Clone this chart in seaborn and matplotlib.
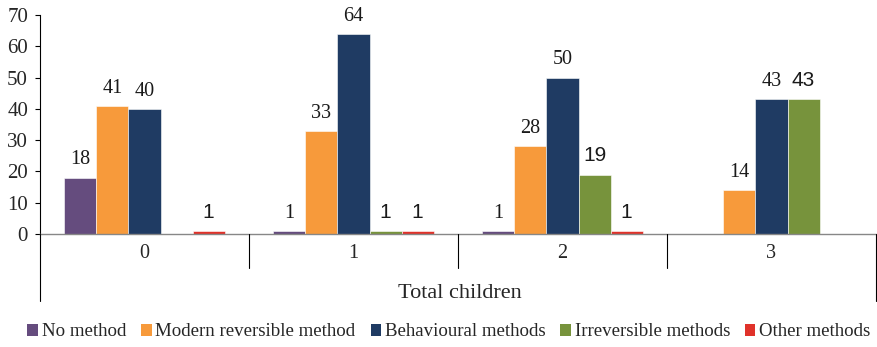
import matplotlib
matplotlib.use("Agg")
import matplotlib.pyplot as plt
import seaborn as sns
import pandas as pd
from matplotlib.patches import Patch
from matplotlib.lines import Line2D
from matplotlib.transforms import blended_transform_factory

# Share of respondents (%) by contraceptive method and number of children
children = ["0", "1", "2", "3"]
methods = ["No method", "Modern reversible method", "Behavioural methods",
           "Irreversible methods", "Other methods"]
no_method = [18, 1, 1, 0]
modern_reversible = [41, 33, 28, 14]
behavioural = [40, 64, 50, 43]
irreversible = [0, 1, 19, 43]
other = [1, 1, 1, 0]
y_ticks = [0, 10, 20, 30, 40, 50, 60, 70]

colors = ["#654C7E", "#F79A3B", "#1F3B63", "#77933C", "#E0322A"]
label_fonts = ["Liberation Serif", "Liberation Serif", "Liberation Serif",
               "Liberation Sans", "Liberation Sans"]
label_sizes = [14.5, 14.5, 14.5, 15, 15]

series = [no_method, modern_reversible, behavioural, irreversible, other]
rows = []
for m, vals in zip(methods, series):
    for c, v in zip(children, vals):
        rows.append({"children": c, "method": m, "value": v})
df = pd.DataFrame(rows)

sns.set_style("white")
plt.rcParams["font.family"] = ["Liberation Serif", "DejaVu Serif"]

W, H = 877, 347
fig = plt.figure(figsize=(W / 100, H / 100), dpi=100)
ax = fig.add_axes([40 / W, 113 / H, 836 / W, 219 / H])

sns.barplot(data=df, x="children", y="value", hue="method",
            order=children, hue_order=methods, palette=colors,
            saturation=1, width=0.766, edgecolor="white", linewidth=0.4,
            ax=ax, legend=False)

ax.set_ylim(0, 70)
ax.set_xlim(-0.5, 3.5)
ax.set_yticks(y_ticks)
ax.set_xticks(range(len(children)))
ax.set_xticklabels(children)
ax.set_xlabel("")
ax.set_ylabel("")
ax.tick_params(axis="y", direction="out", length=3.6, width=0.8,
               color="black", pad=5, labelsize=15, left=True)
ax.tick_params(axis="x", length=0, pad=7, labelsize=14.5)

for side in ["top", "right"]:
    ax.spines[side].set_visible(False)
ax.spines["left"].set_color("black")
ax.spines["left"].set_linewidth(0.8)
ax.spines["bottom"].set_color("#878787")
ax.spines["bottom"].set_linewidth(1.0)

# value labels above each bar
for cont, vals, fam, fs in zip(ax.containers, series, label_fonts, label_sizes):
    for bar, v in zip(cont, vals):
        if v <= 0:
            continue
        ax.annotate(str(v), (bar.get_x() + bar.get_width() / 2, bar.get_height()),
                    xytext=(0, 9.5), textcoords="offset points",
                    ha="center", va="baseline", fontsize=fs, family=fam,
                    color="#1a1a1a")

# category divider lines below the axis
trans = blended_transform_factory(ax.transData, fig.transFigure)
for b in [0.5, 1.5, 2.5]:
    fig.add_artist(Line2D([b, b], [113 / H, 79 / H], transform=trans,
                          color="black", lw=0.8))
for b in [-0.5, 3.5]:
    fig.add_artist(Line2D([b, b], [113 / H, 46 / H], transform=trans,
                          color="black", lw=0.8))

fig.text(460 / W, (H - 293) / H, "Total children", ha="center", va="center",
         fontsize=16)

handles = [Patch(facecolor=c, edgecolor="none") for c in colors]
fig.legend(handles, methods, loc="center", bbox_to_anchor=(449 / W, 15 / H),
           ncol=5, frameon=False, fontsize=13.6, handlelength=0.55,
           handleheight=0.55, handletextpad=0.2, columnspacing=0.8,
           borderaxespad=0, borderpad=0)

fig.savefig("out.png", dpi=100)
